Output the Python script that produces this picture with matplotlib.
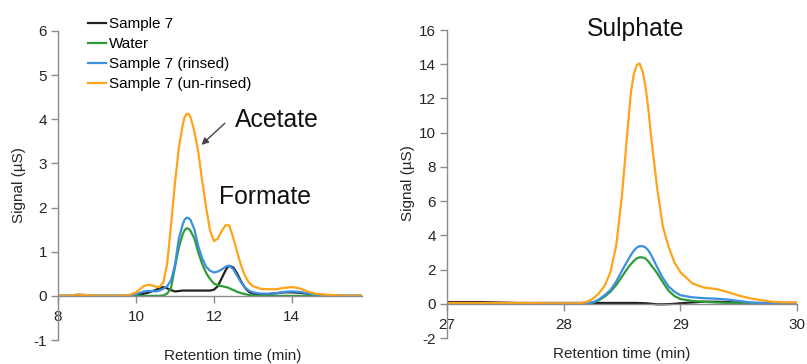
import numpy as np
import matplotlib
matplotlib.use('Agg')
import matplotlib.pyplot as plt

plt.rcParams['font.family'] = ['Liberation Sans', 'DejaVu Sans']
plt.rcParams['axes.unicode_minus'] = False

# ---- data ----
series_names = ['Sample 7', 'Water', 'Sample 7 (rinsed)', 'Sample 7 (un-rinsed)']
series_colors = ['#222222', '#2e9b3a', '#3d8fe0', '#ffa31a']

# left panel: acetate / formate region
left_time = [8.0, 8.3, 8.5, 8.7, 9.0, 9.5, 9.8, 10.0, 10.1, 10.2, 10.3, 10.4, 10.5, 10.6,
             10.7, 10.8, 10.9, 11.0, 11.1, 11.2, 11.25, 11.3, 11.35, 11.4, 11.5, 11.6, 11.7,
             11.8, 11.9, 12.0, 12.1, 12.2, 12.3, 12.35, 12.4, 12.5, 12.6, 12.7, 12.8, 12.9,
             13.0, 13.2, 13.4, 13.6, 13.8, 14.0, 14.2, 14.4, 14.6, 14.8, 15.0, 15.4, 15.8]
left_sample7 = [0, 0, 0, 0, 0, 0, 0, 0.02, 0.03, 0.05, 0.07, 0.1, 0.13, 0.17,
                0.2, 0.17, 0.13, 0.1, 0.11, 0.12, 0.12, 0.12, 0.12, 0.12, 0.12, 0.12, 0.12,
                0.12, 0.12, 0.14, 0.22, 0.4, 0.58, 0.65, 0.68, 0.64, 0.5, 0.32, 0.18, 0.09,
                0.05, 0.03, 0.04, 0.06, 0.08, 0.08, 0.07, 0.05, 0.03, 0.02, 0.01, 0, 0]
left_water = [0, 0, 0, 0, 0, 0, 0, 0, 0, 0, 0, 0, 0, 0,
              0.01, 0.05, 0.18, 0.65, 1.1, 1.4, 1.49, 1.53, 1.52, 1.47, 1.3, 0.98, 0.72,
              0.52, 0.38, 0.28, 0.24, 0.22, 0.2, 0.19, 0.17, 0.13, 0.09, 0.06, 0.04, 0.02,
              0.01, 0, 0, 0, 0, 0, 0, 0, 0, 0, 0, 0, 0]
left_rinsed = [0, 0, 0.03, 0.02, 0, 0, 0, 0.04, 0.07, 0.1, 0.11, 0.11, 0.1, 0.12,
               0.16, 0.22, 0.35, 0.7, 1.3, 1.62, 1.73, 1.77, 1.76, 1.72, 1.5, 1.12, 0.85,
               0.66, 0.57, 0.53, 0.55, 0.6, 0.66, 0.68, 0.68, 0.6, 0.45, 0.3, 0.19, 0.12,
               0.08, 0.05, 0.05, 0.06, 0.09, 0.1, 0.09, 0.06, 0.03, 0.02, 0.01, 0, 0]
left_unrinsed = [0, 0, 0.03, 0.02, 0, 0, 0.01, 0.08, 0.15, 0.22, 0.25, 0.24, 0.21, 0.2,
                 0.3, 0.72, 1.6, 2.55, 3.35, 3.88, 4.05, 4.12, 4.12, 4.05, 3.72, 3.25, 2.6,
                 2.0, 1.48, 1.24, 1.3, 1.47, 1.6, 1.61, 1.58, 1.3, 0.98, 0.68, 0.45, 0.3,
                 0.22, 0.16, 0.15, 0.15, 0.18, 0.2, 0.17, 0.1, 0.05, 0.03, 0.02, 0, 0]

# right panel: sulphate region
right_time = [27.0, 27.3, 27.6, 27.9, 28.0, 28.1, 28.15, 28.2, 28.25, 28.3, 28.35, 28.4,
              28.45, 28.5, 28.55, 28.575, 28.6, 28.625, 28.65, 28.675, 28.7, 28.725, 28.75,
              28.8, 28.85, 28.9, 28.95, 29.0, 29.1, 29.2, 29.3, 29.4, 29.5, 29.6, 29.7,
              29.8, 29.9, 30.0]
right_sample7 = [0.1, 0.1, 0.05, 0.05, 0.05, 0.05, 0.05, 0.05, 0.05, 0.05, 0.05, 0.05,
                 0.05, 0.05, 0.05, 0.05, 0.05, 0.05, 0.04, 0.04, 0.03, 0.02, 0.0,
                 -0.03, -0.03, -0.02, 0.0, 0.03, 0.08, 0.12, 0.12, 0.1, 0.07, 0.05, 0.05,
                 0.05, 0.05, 0.05]
right_water = [0.02, 0.02, 0.02, 0.02, 0.02, 0.02, 0.02, 0.03, 0.08, 0.2, 0.42, 0.7,
               1.1, 1.6, 2.1, 2.32, 2.5, 2.65, 2.72, 2.71, 2.65, 2.48, 2.25,
               1.8, 1.25, 0.75, 0.45, 0.28, 0.17, 0.12, 0.08, 0.05, 0.03, 0.02, 0.02,
               0.02, 0.02, 0.02]
right_rinsed = [0.03, 0.03, 0.03, 0.03, 0.03, 0.03, 0.03, 0.03, 0.08, 0.25, 0.5, 0.8,
                1.3, 1.95, 2.55, 2.85, 3.1, 3.28, 3.37, 3.37, 3.3, 3.12, 2.85,
                2.15, 1.5, 1.0, 0.7, 0.5, 0.38, 0.33, 0.3, 0.25, 0.17, 0.08, 0.04,
                0.03, 0.03, 0.03]
right_unrinsed = [0.05, 0.05, 0.05, 0.03, 0.03, 0.03, 0.04, 0.12, 0.3, 0.6, 1.05, 1.85,
                  3.4, 6.4, 10.4, 12.3, 13.4, 13.95, 14.05, 13.6, 12.75, 11.4, 9.7,
                  6.8, 4.5, 3.3, 2.4, 1.85, 1.2, 0.95, 0.87, 0.7, 0.48, 0.32, 0.2,
                  0.11, 0.08, 0.08]

left_data = [left_sample7, left_water, left_rinsed, left_unrinsed]
right_data = [right_sample7, right_water, right_rinsed, right_unrinsed]

axis_grey = '#8c8c8c'
text_col = '#262626'
fs = 11


def style_axis(ax, xlim, ylim, xticks, yticks):
    ax.set_xlim(*xlim)
    ax.set_ylim(*ylim)
    ax.set_xticks(xticks)
    ax.set_yticks(yticks)
    for s in ['top', 'right']:
        ax.spines[s].set_visible(False)
    ax.spines['bottom'].set_position(('data', 0))
    for s in ['left', 'bottom']:
        ax.spines[s].set_color(axis_grey)
        ax.spines[s].set_linewidth(1.0)
    ax.tick_params(axis='both', colors=axis_grey, labelcolor=text_col, labelsize=fs,
                   length=5, width=1.0)
    ax.tick_params(axis='x', direction='out', pad=5)
    ax.tick_params(axis='y', pad=3)


fig = plt.figure(figsize=(8.07, 3.64), dpi=100)

# left panel
ax1 = fig.add_axes([0.0719, 0.0659, 0.3767, 0.849])
for vals, name, col in zip(left_data, series_names, series_colors):
    ax1.plot(left_time, vals, color=col, lw=1.6, label=name)
style_axis(ax1, (8, 15.8), (-1, 6), [8, 10, 12, 14], range(-1, 7))
ax1.set_ylabel('Signal (µS)', fontsize=fs, color=text_col)
ax1.yaxis.set_label_coords(-0.104, 0.50)
ax1.set_xlabel('Retention time (min)', fontsize=fs, color=text_col)
ax1.xaxis.set_label_coords(0.576, -0.029)
ax1.text(12.54, 3.98, 'Acetate', fontsize=17.8, color='#111111', va='center', ha='left')
ax1.text(12.13, 2.24, 'Formate', fontsize=17.8, color='#111111', va='center', ha='left')
ax1.annotate('', xy=(11.68, 3.42), xytext=(12.28, 3.91),
             arrowprops=dict(arrowstyle='-|>', color='#444444', lw=1.0,
                             mutation_scale=10, shrinkA=0, shrinkB=0))
ax1.legend(loc='upper left', bbox_to_anchor=(0.109, 0.953), bbox_transform=fig.transFigure,
           frameon=False, fontsize=fs, handlelength=1.2, handletextpad=0.15,
           labelspacing=0.4, borderpad=0, borderaxespad=0)

# right panel
ax2 = fig.add_axes([0.554, 0.0714, 0.4337, 0.846])
for vals, name, col in zip(right_data, series_names, series_colors):
    ax2.plot(right_time, vals, color=col, lw=1.6, label=name)
style_axis(ax2, (27, 30), (-2, 16), [27, 28, 29, 30], range(-2, 17, 2))
ax2.set_ylabel('Signal (µS)', fontsize=fs, color=text_col)
ax2.yaxis.set_label_coords(-0.091, 0.503)
ax2.set_xlabel('Retention time (min)', fontsize=fs, color=text_col)
ax2.xaxis.set_label_coords(0.5, -0.029)
ax2.text(28.615, 16.06, 'Sulphate', fontsize=17.8, color='#111111', va='center', ha='center')

fig.savefig('out.png', dpi=100)
